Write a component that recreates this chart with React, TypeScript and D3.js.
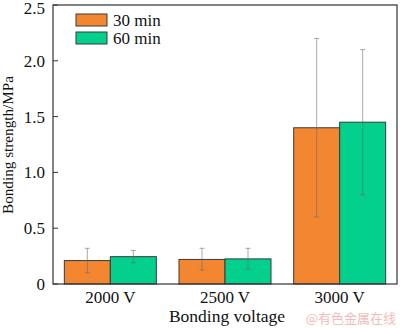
import React from "react";
import * as d3 from "d3";

const categories = ["2000 V", "2500 V", "3000 V"];
const seriesNames = ["30 min", "60 min"];
const values30 = [0.21, 0.22, 1.4];
const values60 = [0.245, 0.225, 1.45];
const errLow30 = [0.1, 0.125, 0.6];
const errHigh30 = [0.32, 0.32, 2.2];
const errLow60 = [0.19, 0.135, 0.8];
const errHigh60 = [0.3, 0.32, 2.1];
const yTicks = [0, 0.5, 1.0, 1.5, 2.0, 2.5];
const colors = ["#F28631", "#02D08C"];

export default function App() {
  const W = 400, H = 328;
  const left = 53, right = 397, top = 5, bottom = 284;
  const x = d3.scaleBand().domain(categories).range([left, right]).paddingInner(0).paddingOuter(0);
  const y = d3.scaleLinear().domain([0, 2.5]).range([bottom, top]);
  const barW = 46;
  const series = [
    { name: seriesNames[0], v: values30, lo: errLow30, hi: errHigh30, color: colors[0] },
    { name: seriesNames[1], v: values60, lo: errLow60, hi: errHigh60, color: colors[1] },
  ];
  const font = "'Liberation Serif', 'Times New Roman', serif";
  return (
    <svg width={W} height={H} style={{ position: "absolute", left: 0, top: 0, background: "#fff" }} fontFamily={font}>
      <rect x={0} y={0} width={W} height={H} fill="#fff" />
      {series.map((s, si) =>
        categories.map((c, i) => {
          const cx = (x(c) as number) + x.bandwidth() / 2;
          const bx = cx - barW + si * barW;
          return (
            <rect key={`b${si}-${i}`} x={bx} y={y(s.v[i])} width={barW} height={bottom - y(s.v[i])}
              fill={s.color} stroke="#3a3a3a" strokeWidth={1} />
          );
        })
      )}
      {series.map((s, si) =>
        categories.map((c, i) => {
          const cx = (x(c) as number) + x.bandwidth() / 2;
          const ex = cx - barW / 2 + si * barW;
          return (
            <g key={`e${si}-${i}`} stroke="#666" strokeOpacity={0.55} strokeWidth={1}>
              <line x1={ex} x2={ex} y1={y(s.hi[i])} y2={y(s.lo[i])} />
              <line x1={ex - 2.5} x2={ex + 2.5} y1={y(s.hi[i])} y2={y(s.hi[i])} />
              <line x1={ex - 2.5} x2={ex + 2.5} y1={y(s.lo[i])} y2={y(s.lo[i])} />
            </g>
          );
        })
      )}
      <rect x={left} y={top} width={right - left} height={bottom - top} fill="none" stroke="#333" strokeWidth={1.2} />
      {yTicks.map((t) => (
        <g key={`t${t}`}>
          <line x1={left} x2={left + 5} y1={y(t)} y2={y(t)} stroke="#333" />
          <text x={left - 8} y={Math.max(y(t), 8)} dy="0.35em" textAnchor="end" fontSize={17} fill="#111">
            {t === 0 ? "0" : t.toFixed(1)}
          </text>
        </g>
      ))}
      {categories.map((c) => (
        <text key={c} x={(x(c) as number) + x.bandwidth() / 2} y={303} textAnchor="middle" fontSize={17} fill="#111">{c}</text>
      ))}
      <text x={227} y={322} textAnchor="middle" fontSize={17.5} fill="#111">Bonding voltage</text>
      <text transform={`translate(13, 145) rotate(-90)`} textAnchor="middle" fontSize={15.2} fill="#111">Bonding strength/MPa</text>
      {series.map((s, si) => (
        <g key={`l${si}`}>
          <rect x={76} y={14 + si * 18} width={31} height={12} fill={s.color} stroke="#3a3a3a" strokeWidth={1} />
          <text x={113} y={25.5 + si * 18} fontSize={17} fill="#111">{s.name}</text>
        </g>
      ))}
      <text x={396} y={323} textAnchor="end" fontSize={13} fill="#f2bcbc" fontFamily="'Noto Sans CJK SC', sans-serif">@有色金属在线</text>
    </svg>
  );
}
